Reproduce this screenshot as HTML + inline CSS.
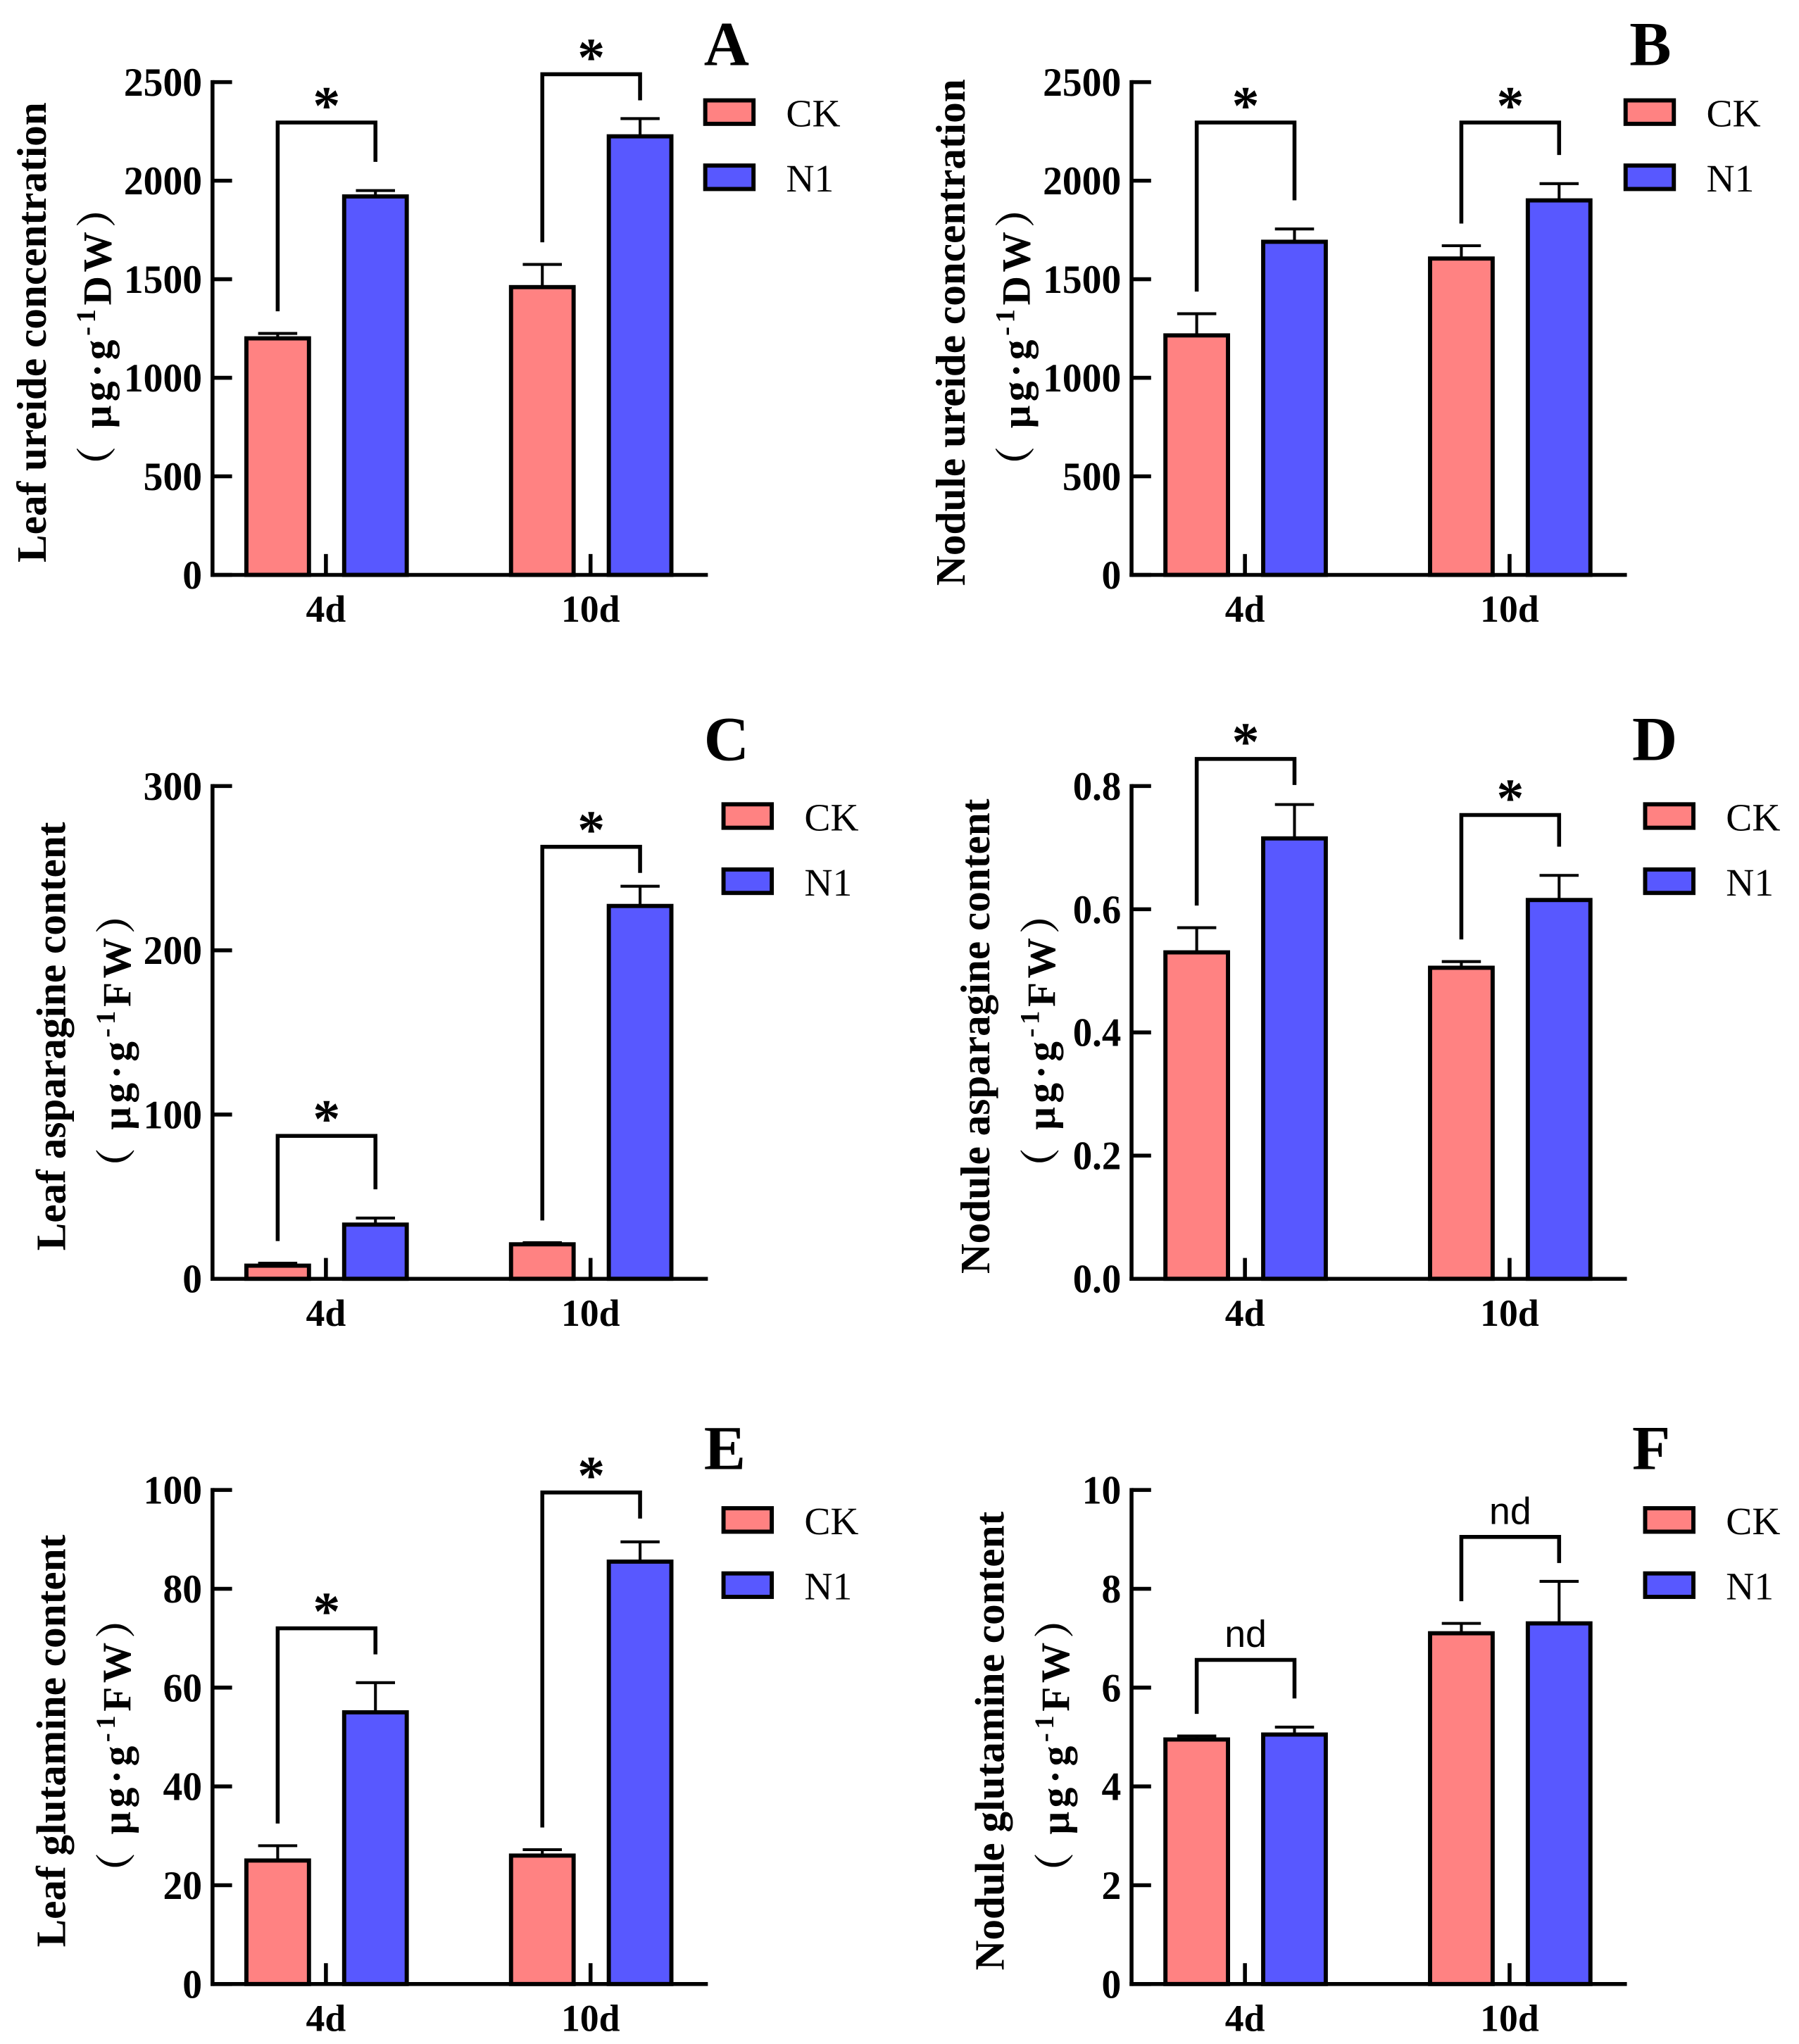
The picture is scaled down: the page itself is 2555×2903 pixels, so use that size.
<!DOCTYPE html>
<html><head><meta charset="utf-8">
<style>html,body{margin:0;padding:0;background:#fff;}svg{display:block;}</style>
</head><body>
<svg id="fig" xmlns="http://www.w3.org/2000/svg" width="2555" height="2903" viewBox="0 0 1380 1568"></svg>
<script>
const categories = ["4d", "10d"];
const seriesNames = ["CK", "N1"];
const seriesColors = ["#FF8282", "#5858FF"];

const aCK = [1200, 1460], aCKerr = [25, 115], aN1 = [1920, 2225], aN1err = [30, 90];
const bCK = [1215, 1605], bCKerr = [110, 65], bN1 = [1690, 1900], bN1err = [65, 85];
const cCK = [8, 21], cCKerr = [1.5, 1], cN1 = [33, 227], cN1err = [4, 12];
const dCK = [0.53, 0.505], dCKerr = [0.04, 0.01], dN1 = [0.715, 0.615], dN1err = [0.055, 0.04];
const eCK = [25, 26], eCKerr = [3, 1.2], eN1 = [55, 85.5], eN1err = [6, 4];
const fCK = [4.95, 7.1], fCKerr = [0.07, 0.2], fN1 = [5.05, 7.3], fN1err = [0.15, 0.85];

const aTicks = ["0","500","1000","1500","2000","2500"];
const bTicks = ["0","500","1000","1500","2000","2500"];
const cTicks = ["0","100","200","300"];
const dTicks = ["0.0","0.2","0.4","0.6","0.8"];
const eTicks = ["0","20","40","60","80","100"];
const fTicks = ["0","2","4","6","8","10"];

const aSig = ["*","*"], bSig = ["*","*"], cSig = ["*","*"], dSig = ["*","*"], eSig = ["*","*"], fSig = ["nd","nd"];
const aBr = [2295, 2540], bBr = [2295, 2295], cBr = [87, 263], dBr = [0.844, 0.753], eBr = [72, 99.5], fBr = [6.56, 9.05];

const NS = "http://www.w3.org/2000/svg";
const svg = document.getElementById("fig");
function el(tag, attrs, parent, text) {
  const e = document.createElementNS(NS, tag);
  for (const k in attrs) e.setAttribute(k, attrs[k]);
  if (text !== undefined) e.textContent = text;
  (parent || svg).appendChild(e);
  return e;
}

const panels = [
  {id:"a", letter:"A", x0:163, top:63, zero:441, ck:aCK, ckE:aCKerr, n1:aN1, n1E:aN1err, ticks:aTicks, sig:aSig, br:aBr, t1:"Leaf ureide concentration", unit:"DW", tx:25, legX:541, letX:540, letY:50},
  {id:"b", letter:"B", x0:868, top:63, zero:441, ck:bCK, ckE:bCKerr, n1:bN1, n1E:bN1err, ticks:bTicks, sig:bSig, br:bBr, t1:"Nodule ureide concentration", unit:"DW", tx:730, legX:1247, letX:1250, letY:50},
  {id:"c", letter:"C", x0:163, top:603, zero:981, ck:cCK, ckE:cCKerr, n1:cN1, n1E:cN1err, ticks:cTicks, sig:cSig, br:cBr, t1:"Leaf asparagine content", unit:"FW", tx:40, legX:555, letX:540, letY:583},
  {id:"d", letter:"D", x0:868, top:603, zero:981, ck:dCK, ckE:dCKerr, n1:dN1, n1E:dN1err, ticks:dTicks, sig:dSig, br:dBr, t1:"Nodule asparagine content", unit:"FW", tx:749, legX:1262, letX:1252, letY:583},
  {id:"e", letter:"E", x0:163, top:1143, zero:1522, ck:eCK, ckE:eCKerr, n1:eN1, n1E:eN1err, ticks:eTicks, sig:eSig, br:eBr, t1:"Leaf glutamine content", unit:"FW", tx:40, legX:555, letX:540, letY:1127},
  {id:"f", letter:"F", x0:868, top:1143, zero:1522, ck:fCK, ckE:fCKerr, n1:fN1, n1E:fN1err, ticks:fTicks, sig:fSig, br:fBr, t1:"Nodule glutamine content", unit:"FW", tx:760, legX:1262, letX:1252, letY:1127}
];

const SERIF = "Liberation Serif, serif";
panels.forEach(p => {
  const g = el("g", {});
  
  
  const maxV = parseFloat(p.ticks[p.ticks.length - 1]);
  const y = v => p.zero - v / maxV * (p.zero - p.top);
  const groupX = i => p.x0 + 87 + i * 203;
  const barW = 48;
  const ckX = i => groupX(i) - 61;
  const n1X = i => groupX(i) + 14;

  categories.forEach((c, i) => {
    [[p.ck, p.ckE, ckX, 0], [p.n1, p.n1E, n1X, 1]].forEach(([vals, errs, fx, s]) => {
      const v = vals[i], e = errs[i];
      const cx = fx(i) + barW / 2;
      const eb = el("path", {d:`M${cx},${y(v)} V${y(v + e)} M${cx - 15},${y(v + e)} H${cx + 15}`, stroke:"#000", "stroke-width":2.2, fill:"none"}, g);
      
      
      const r = el("rect", {x:fx(i), y:y(v), width:barW, height:p.zero - y(v), fill:seriesColors[s], stroke:"#000", "stroke-width":3.2}, g);
      
      
    });
    const ct = el("line", {x1:groupX(i), x2:groupX(i), y1:p.zero, y2:p.zero - 16, stroke:"#000", "stroke-width":3}, g);
    
    
    const xl = el("text", {x:groupX(i), y:p.zero + 36, "text-anchor":"middle", "font-family":SERIF, "font-weight":"bold", "font-size":29}, g, c);
    
    
    const lx = ckX(i) + barW / 2, rx = n1X(i) + barW / 2;
    const ly = y(p.ck[i] + p.ckE[i]) - 17, ry = y(p.n1[i] + p.n1E[i]) - 22;
    const by = y(p.br[i]);
    const br = el("path", {d:`M${lx},${Math.max(ly, by + 20)} V${by} H${rx} V${Math.max(ry, by + 20)}`, stroke:"#000", "stroke-width":3, fill:"none"}, g);
    
    
    const isStar = p.sig[i] === "*";
    const st = el("text", {x:(lx + rx) / 2, y: isStar ? by + 1 : by - 10, "text-anchor":"middle",
      "font-family": isStar ? SERIF : "Liberation Sans, sans-serif", "font-weight": isStar ? "bold" : "normal",
      "font-size": isStar ? 42 : 29}, g, p.sig[i]);
    
    
  });

  const ya = el("line", {x1:p.x0, x2:p.x0, y1:p.top - 1.5, y2:p.zero + 1.5, stroke:"#000", "stroke-width":3}, g);
  
  
  const xa = el("line", {x1:p.x0 - 1.5, x2:p.x0 + 380, y1:p.zero, y2:p.zero, stroke:"#000", "stroke-width":3}, g);
  
  
  p.ticks.forEach(t => {
    const ty = y(parseFloat(t));
    const tk = el("line", {x1:p.x0, x2:p.x0 + 15, y1:ty, y2:ty, stroke:"#000", "stroke-width":3}, g);
    
    
    const nDot = (t.match(/\./g) || []).length;
    const tl = el("text", {x:p.x0 - 8, y:ty + 10.5, "text-anchor":"end", "font-family":SERIF, "font-weight":"bold", "font-size":31,
      textLength: (t.length - nDot) * 15 + nDot * 7, lengthAdjust:"spacingAndGlyphs"}, g, t);
    
    
  });

  const cy = (p.top + p.zero) / 2 + 3;
  const t1 = el("text", {x:0, y:0, transform:`translate(${p.tx + 10},${cy}) rotate(-90)`, "text-anchor":"middle", "font-family":SERIF, "font-weight":"bold", "font-size":32}, g, p.t1);
  
  
  const t2 = el("text", {x:0, y:0, transform:`translate(${p.tx + 60},${cy + 2}) rotate(-90)`, "text-anchor":"middle", "font-family":"Liberation Serif, Noto Serif CJK SC, serif", "font-weight":"bold", "font-size":31, "letter-spacing":3}, g);
  
  
  el("tspan", {}, t2, "（ μg·g");
  el("tspan", {dy:-12, "font-size":21}, t2, "-1");
  el("tspan", {dy:12}, t2, p.unit + "）");

  seriesNames.forEach((n, s) => {
    const ly = p.top + 14 + s * 50;
    const lr = el("rect", {x:p.legX, y:ly, width:37, height:18, fill:seriesColors[s], stroke:"#000", "stroke-width":3.2}, g);
    
    
    const lt = el("text", {x:p.legX + 62, y:ly + 20, "font-family":SERIF, "font-size":30}, g, n);
    
    
  });
  const pl = el("text", {x:p.letX, y:p.letY, "font-family":SERIF, "font-weight":"bold", "font-size":48}, g, p.letter);
  
  
});
</script>
</body></html>
